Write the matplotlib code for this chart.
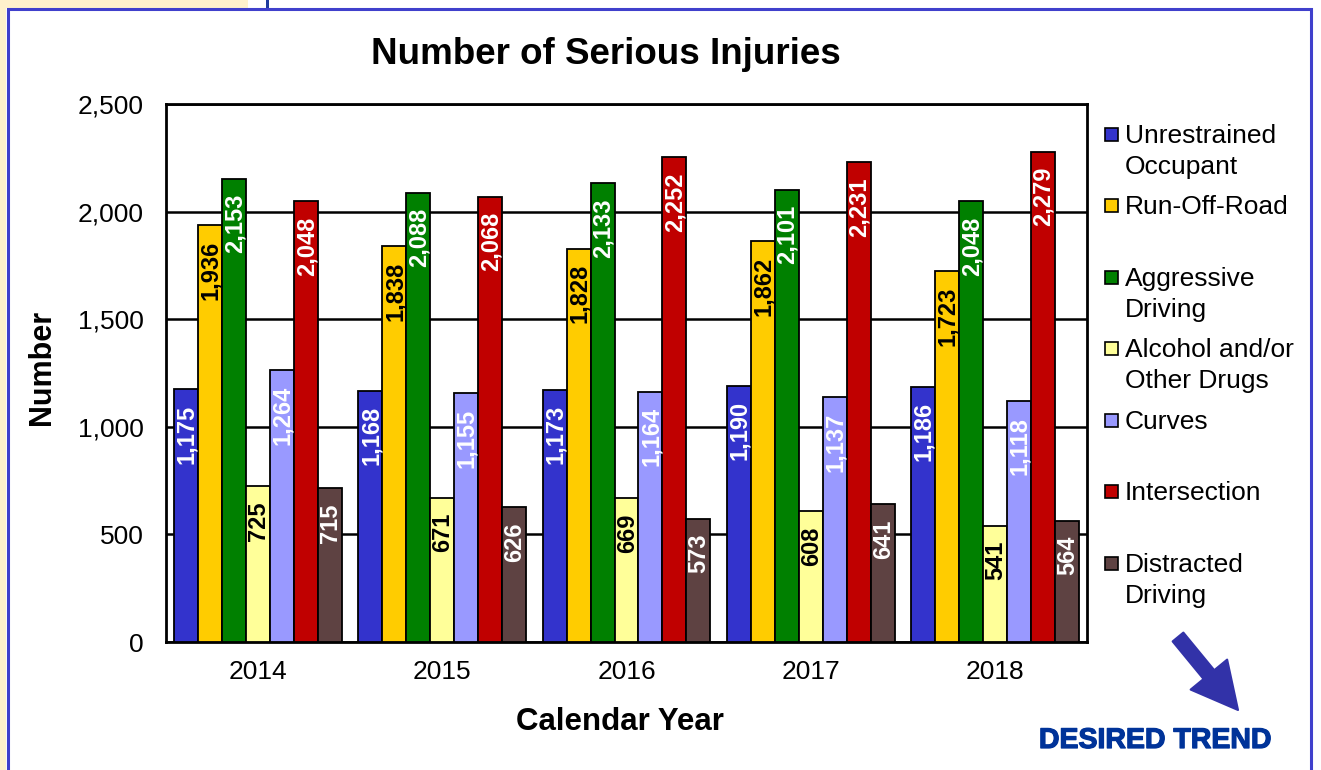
import matplotlib
matplotlib.use("Agg")
import matplotlib.pyplot as plt
import numpy as np
from matplotlib.patches import Rectangle, FancyArrowPatch
from matplotlib import patheffects as pe
from matplotlib import font_manager as fm

plt.rcParams['font.family'] = ['Liberation Sans', 'DejaVu Sans']

years = ["2014", "2015", "2016", "2017", "2018"]
series_names = ["Unrestrained\nOccupant", "Run-Off-Road", "Aggressive\nDriving",
                "Alcohol and/or\nOther Drugs", "Curves", "Intersection",
                "Distracted\nDriving"]
unrestrained = [1175, 1168, 1173, 1190, 1186]
run_off_road = [1936, 1838, 1828, 1862, 1723]
aggressive = [2153, 2088, 2133, 2101, 2048]
alcohol_drugs = [725, 671, 669, 608, 541]
curves = [1264, 1155, 1164, 1137, 1118]
intersection = [2048, 2068, 2252, 2231, 2279]
distracted = [715, 626, 573, 641, 564]
yticks = [0, 500, 1000, 1500, 2000, 2500]

series = [unrestrained, run_off_road, aggressive, alcohol_drugs, curves,
          intersection, distracted]
colors = ["#3333CC", "#FFCC00", "#008000", "#FFFF99", "#9999FF", "#C00000", "#5E4242"]
label_colors = ["white", "black", "white", "black", "white", "white", "white"]

installed = {f.name for f in fm.fontManager.ttflist}
if "Liberation Sans Narrow" in installed:
    label_family = ["Liberation Sans Narrow", "DejaVu Sans"]
    label_size = 19
else:
    label_family = ["Liberation Sans", "DejaVu Sans"]
    label_size = 17

W, H = 1321, 770
fig = plt.figure(figsize=(W / 100, H / 100), dpi=100)

def fx(px):
    return px / W

def fy(py):
    return 1 - py / H

# decorative frame
fig.add_artist(Rectangle((0, fy(8)), fx(248), 8 / H, transform=fig.transFigure,
                         facecolor="#FFF2CC", edgecolor="none", zorder=0))
fig.add_artist(Rectangle((0, 0), fx(6), fy(8), transform=fig.transFigure,
                         facecolor="#FFF2CC", edgecolor="none", zorder=0))
fig.add_artist(Rectangle((fx(266), fy(8)), fx(3), 8 / H, transform=fig.transFigure,
                         facecolor="#1F3B9E", edgecolor="none", zorder=0))
fig.add_artist(Rectangle((fx(7.5), -0.05), fx(1311 - 7.5), fy(8.5) + 0.05,
                         transform=fig.transFigure, facecolor="none",
                         edgecolor="#4040CC", linewidth=2.2, zorder=0))

ax = fig.add_axes([fx(166), fy(642), fx(1087) - fx(166), fy(104) - fy(642)])

n = len(series)
bw = 0.13
x = np.arange(len(years))
for i, (vals, c, lc) in enumerate(zip(series, colors, label_colors)):
    pos = x + (i - (n - 1) / 2) * bw
    bars = ax.bar(pos, vals, width=bw, color=c, edgecolor="black", linewidth=1.3, zorder=3)
    for b, v in zip(bars, vals):
        ax.annotate(f"{v:,}", (b.get_x() + b.get_width() / 2, v),
                    xytext=(0.5, -11), textcoords="offset points",
                    rotation=90, ha="center", va="top", color=lc,
                    fontsize=label_size, fontweight="bold", family=label_family,
                    zorder=4)

ax.set_xlim(-0.5, len(years) - 0.5)
ax.set_ylim(0, 2500)
ax.set_yticks(yticks)
ax.set_yticklabels([f"{t:,}" for t in yticks])
ax.set_xticks(x)
ax.set_xticklabels(years)
ax.tick_params(axis="both", length=0, labelsize=19)
ax.tick_params(axis="y", pad=16)
ax.tick_params(axis="x", pad=13)
ax.yaxis.grid(True, color="black", linewidth=1.8, zorder=0)
ax.set_axisbelow(True)
for s in ax.spines.values():
    s.set_linewidth(2)
    s.set_color("black")

fig.text(fx(606), fy(55), "Number of Serious Injuries", ha="center", va="center",
         fontsize=26.5, fontweight="bold")
fig.text(fx(42), fy(367), "Number", ha="center", va="center", rotation=90,
         fontsize=22, fontweight="bold")
fig.text(fx(620), fy(722), "Calendar Year", ha="center", va="center",
         fontsize=22.5, fontweight="bold")

# legend
for i, (name, c) in enumerate(zip(series_names, colors)):
    yc = 134 + i * 71.5
    fig.add_artist(Rectangle((fx(1105), fy(yc + 6.5)), fx(13), 13 / H,
                             transform=fig.transFigure, facecolor=c,
                             edgecolor="black", linewidth=1.2))
    fig.text(fx(1125), fy(yc - 10), name, ha="left", va="top", fontsize=19,
             linespacing=1.36)

# desired trend arrow
arr = FancyArrowPatch((fx(1178), fy(637)), (fx(1238), fy(710)),
                      transform=fig.transFigure,
                      arrowstyle="simple,head_length=3.3,head_width=3.4,tail_width=1.0",
                      mutation_scale=10, facecolor="#3232A8", edgecolor="#3232A8",
                      linewidth=1.5, joinstyle="round", capstyle="round",
                      shrinkA=0, shrinkB=0)
fig.add_artist(arr)
fig.text(fx(1155), fy(741), "DESIRED TREND", ha="center", va="center",
         fontsize=20.5, fontweight="bold", color="#003399",
         path_effects=[pe.withStroke(linewidth=0.9, foreground="#003399")])

fig.savefig("out.png", dpi=100)
